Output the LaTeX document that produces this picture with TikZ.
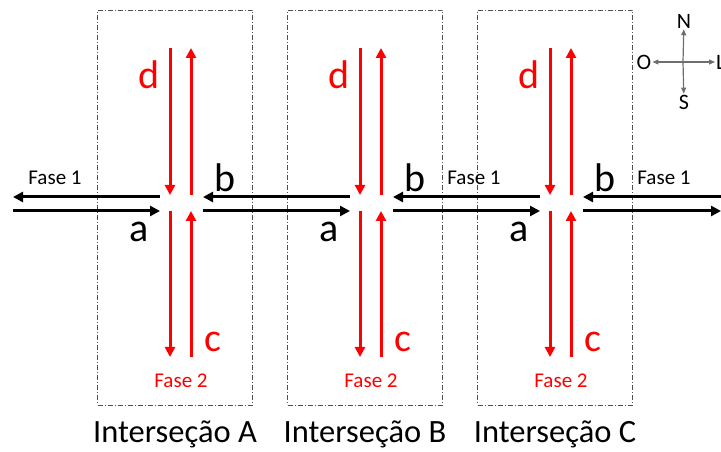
\documentclass[tikz,border=0pt]{standalone}
\usepackage{fontspec}
\setmainfont{Carlito}
\usetikzlibrary{arrows.meta}
\definecolor{sig}{HTML}{FF0000}
\definecolor{road}{HTML}{000000}
\definecolor{frame}{HTML}{505050}
\definecolor{rose}{HTML}{6E6E6E}
\tikzset{
  zone/.style={draw=frame, dash pattern=on 5pt off 2pt on 1pt off 2pt,
               line width=0.8pt, minimum width=155pt, minimum height=395pt,
               inner sep=0pt},
  redar/.style={-{Triangle[length=10pt,width=10pt]}, line width=3pt, draw=sig},
  blkar/.style={-{Triangle[length=10pt,width=10pt]}, line width=3pt, draw=road},
  rosear/.style={-{Triangle[length=6pt,width=5pt]}, line width=1.2pt, draw=rose},
  letter/.style={font=\fontsize{40}{40}\selectfont, inner sep=0pt},
  redletter/.style={letter, text=sig},
  phase/.style={font=\fontsize{21}{21}\selectfont, inner sep=0pt},
  redphase/.style={phase, text=sig},
  caption/.style={font=\fontsize{32.5}{32.5}\selectfont, inner sep=0pt},
  compass/.style={font=\fontsize{22}{22}\selectfont, inner sep=1pt}
}

\begin{document}
\begin{tikzpicture}[x=1pt,y=1pt]
  \useasboundingbox (0,0) rectangle (721,452);

  % the three crossings
  \foreach \n/\cx in {A/180,B/370,C/560}{
    \node[zone] (\n-box) at (\cx-5,244.5) {};
    \node[caption, anchor=base] (\n-name) at (\cx-5,9) {Interseção \n};

    \coordinate (\n-d1) at (\cx-10,404);
    \coordinate (\n-d2) at (\cx-10,257);
    \coordinate (\n-d3) at (\cx-10,241);
    \coordinate (\n-d4) at (\cx-10,95);
    \coordinate (\n-u1) at (\cx+11,95);
    \coordinate (\n-u2) at (\cx+11,241);
    \coordinate (\n-u3) at (\cx+11,257);
    \coordinate (\n-u4) at (\cx+11,404);
    \draw[redar] (\n-d1) -- (\n-d2);
    \draw[redar] (\n-d3) -- (\n-d4);
    \draw[redar] (\n-u1) -- (\n-u2);
    \draw[redar] (\n-u3) -- (\n-u4);

    \coordinate (\n-wt) at (\cx-20,255);
    \coordinate (\n-wb) at (\cx-20,241);
    \coordinate (\n-et) at (\cx+23,255);
    \coordinate (\n-eb) at (\cx+23,241);

    \node[redletter] (\n-d) at (\cx-31,377) {d};
    \node[redletter] (\n-c) at (\cx+33,110) {c};
    \node[redphase] (\n-f2) at (\cx+1,71) {Fase 2};
    \node[letter] (\n-b) at (\cx+45,274) {b};
    \node[letter] (\n-a) at (\cx-41,220) {a};
  }

  % road ends
  \coordinate (west-t) at (13,255);
  \coordinate (west-b) at (13,241);
  \coordinate (east-t) at (721,255);
  \coordinate (east-b) at (721,241);

  \draw[blkar] (A-wt) -- (west-t);
  \draw[blkar] (west-b) -- (A-wb);
  \draw[blkar] (B-wt) -- (A-et);
  \draw[blkar] (A-eb) -- (B-wb);
  \draw[blkar] (C-wt) -- (B-et);
  \draw[blkar] (B-eb) -- (C-wb);
  \draw[blkar] (east-t) -- (C-et);
  \draw[blkar] (C-eb) -- (east-b);

  \node[phase] (f1a) at (55,274) {Fase 1};
  \node[phase] (f1b) at (474,274) {Fase 1};
  \node[phase] (f1c) at (664,274) {Fase 1};

  % compass
  \coordinate (rose) at (683,390);
  \node[compass] (north) at (684,431) {N};
  \node[compass] (south) at (684,350) {S};
  \node[compass] (west) at (644,390) {O};
  \node[compass, anchor=west] (east) at (715,390) {L};
  \draw[rosear] (rose) -- (north);
  \draw[rosear] (rose) -- (south);
  \draw[rosear] (rose) -- (west);
  \draw[rosear] (rose) -- (east);
\end{tikzpicture}
\end{document}
